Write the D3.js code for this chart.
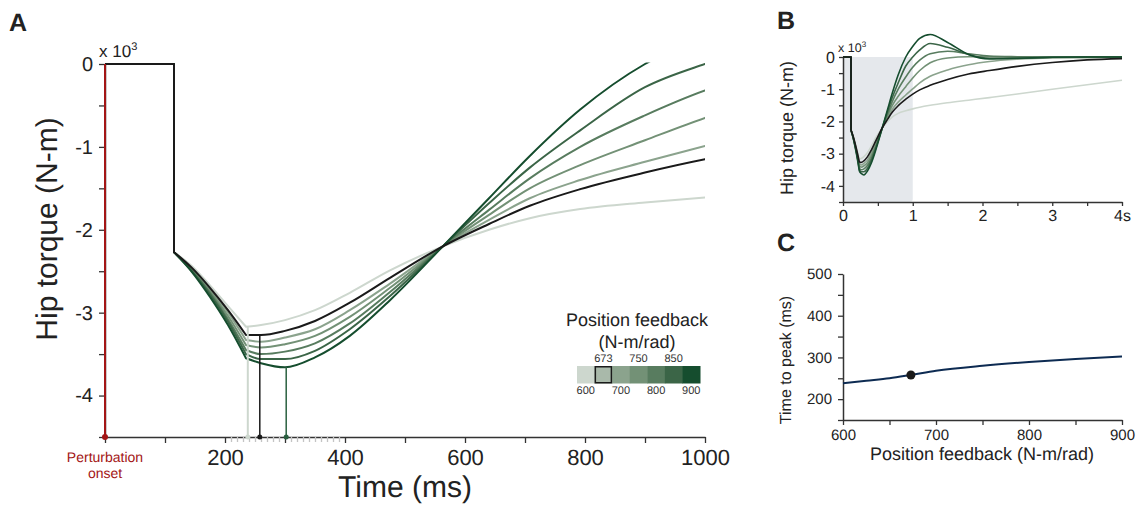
<!DOCTYPE html>
<html><head><meta charset="utf-8">
<script src="https://cdn.jsdelivr.net/npm/d3@7"></script>
<style>
body{margin:0;background:#fff;}
svg{font-family:"Liberation Sans",Arial,Helvetica,sans-serif;text-rendering:geometricPrecision;-webkit-font-smoothing:antialiased;}
</style></head><body>
<svg id="fig" width="1142" height="507"></svg>
<script>
// sample times (ms) of the simulated hip torque traces
var times = [115,145,175,205,235,260,300,350,408,475,563,640,708,792,900,1000,1100,1250,1500,1800,2100,2500,3000,3500,4000];
// flat part before the step (ms, x10^3 N-m)
var stepTimes = [0, 115];
var stepValues = [0, 0];
var knotTime = 235; // slope break after the initial ramp

// hip torque (x10^3 N-m), one array per position feedback gain
var kp600 = [-2.27,-2.44,-2.67,-2.92,-3.17,-3.15,-3.09,-2.97,-2.76,-2.49,-2.20,-2.00,-1.86,-1.75,-1.67,-1.61,-1.56,-1.50,-1.42,-1.34,-1.26,-1.15,-1.00,-0.86,-0.72];
var kp673 = [-2.27,-2.46,-2.70,-2.97,-3.27,-3.27,-3.22,-3.10,-2.88,-2.58,-2.20,-1.93,-1.71,-1.51,-1.31,-1.15,-1.02,-0.88,-0.70,-0.53,-0.42,-0.29,-0.17,-0.09,-0.05];
var kp700 = [-2.27,-2.47,-2.72,-3.00,-3.33,-3.35,-3.30,-3.20,-2.97,-2.65,-2.20,-1.88,-1.62,-1.40,-1.18,-0.99,-0.80,-0.60,-0.40,-0.24,-0.14,-0.07,-0.03,-0.02,-0.01];
var kp750 = [-2.27,-2.48,-2.74,-3.04,-3.39,-3.42,-3.38,-3.28,-3.05,-2.70,-2.20,-1.82,-1.50,-1.22,-0.92,-0.65,-0.42,-0.18,-0.03,0.01,0.01,0.0,0.0,0.0,0.0];
var kp800 = [-2.27,-2.49,-2.76,-3.08,-3.45,-3.50,-3.47,-3.37,-3.13,-2.75,-2.20,-1.76,-1.38,-1.00,-0.62,-0.32,-0.10,0.10,0.18,0.10,0.03,0.01,0.0,0.0,0.0];
var kp850 = [-2.27,-2.50,-2.78,-3.11,-3.50,-3.56,-3.56,-3.46,-3.20,-2.80,-2.20,-1.68,-1.25,-0.80,-0.28,0.00,0.22,0.42,0.30,0.08,-0.04,-0.04,-0.01,0.0,0.0];
var kp900 = [-2.27,-2.51,-2.81,-3.15,-3.55,-3.61,-3.66,-3.54,-3.28,-2.85,-2.20,-1.62,-1.11,-0.55,0.00,0.33,0.58,0.70,0.45,0.08,-0.06,-0.04,-0.01,0.0,0.0];

var gains = [600, 673, 700, 750, 800, 850, 900];
var traces = [kp600, kp673, kp700, kp750, kp800, kp850, kp900];

// panel C: time to peak torque vs gain
var cGain = [600, 625, 650, 673, 700, 750, 800, 850, 900];
var cPeak = [238, 244, 250, 258, 268, 280, 289, 296, 302];
var chosenGain = 673;
var dropGains = [600, 673, 900];

var legendColors = ['#cdd7ce','#a9b9aa','#8ba38d','#739176','#587c5f','#3b6547','#154d2e'];
var lineColors = legendColors.map(function(c, i){ return gains[i] === chosenGain ? '#1a1a1a' : c; });
var ink = '#222', axisInk = '#333', red = '#a31515';

var svg = d3.select('#fig');

function styleAxis(g, size) {
  g.attr('font-family', null);
  g.selectAll('text').attr('font-size', size).attr('fill', ink);
  g.selectAll('line').attr('stroke', axisInk).attr('stroke-width', 1.3);
  g.select('.domain').attr('stroke', axisInk).attr('stroke-width', 1.5);
}

function tracePath(vals, x, y) {
  var pts = times.map(function(t, i){ return [t, vals[i]]; });
  var step = stepTimes.map(function(t, i){ return [t, stepValues[i]]; }).concat([pts[0]]);
  var lin = d3.line().x(function(d){ return x(d[0]); }).y(function(d){ return y(d[1]); });
  var smooth = d3.line().x(function(d){ return x(d[0]); }).y(function(d){ return y(d[1]); }).curve(d3.curveMonotoneX);
  return lin(step) + smooth(pts.filter(function(p){ return p[0] <= knotTime; })) +
    smooth(pts.filter(function(p){ return p[0] >= knotTime; }));
}

function valueAt(vals, t) {
  var i = d3.bisectLeft(times, t);
  var f = (t - times[i-1]) / (times[i] - times[i-1]);
  return vals[i-1] + f * (vals[i] - vals[i-1]);
}

var drawOrder = [0, 2, 3, 4, 5, 6, 1];

// ---------- panel A ----------
var xA = d3.scaleLinear([0, 1000], [105, 705]);
var yA = d3.scaleLinear([-4.5, 0], [437, 64]);

svg.append('text').attr('x', 9).attr('y', 31).attr('font-size', 25).attr('font-weight', 'bold').attr('fill', ink).text('A');

svg.append('defs').append('clipPath').attr('id', 'clipA').append('rect')
  .attr('x', xA(0)).attr('y', yA(0) - 1.5).attr('width', xA(1000) - xA(0)).attr('height', yA(-4.5) - yA(0) + 1.5);

var gxA = svg.append('g').attr('transform', 'translate(0,' + yA(-4.5) + ')')
  .call(d3.axisBottom(xA).tickValues(d3.range(0, 1001, 100)).tickSize(6).tickSizeOuter(0).tickPadding(6)
    .tickFormat(function(d){ return d > 0 && d % 200 === 0 ? d : ''; }));
styleAxis(gxA, 22);

var gMinor = svg.append('g').attr('transform', 'translate(0,' + yA(-4.5) + ')')
  .call(d3.axisBottom(xA).tickValues(d3.range(210, 400, 10).filter(function(d){ return d % 100 !== 0; }))
    .tickSize(5).tickFormat(''));
gMinor.select('.domain').remove();
gMinor.selectAll('line').attr('stroke', '#c4c4c4').attr('stroke-width', 1.3);

var gyA = svg.append('g').attr('transform', 'translate(' + xA(0) + ',0)')
  .call(d3.axisLeft(yA).tickValues(d3.range(0, -4.51, -0.5)).tickSize(6).tickSizeOuter(0).tickPadding(6)
    .tickFormat(function(d){ return Number.isInteger(d) ? d : ''; }));
styleAxis(gyA, 20);

svg.append('text').attr('x', 99).attr('y', 57).attr('font-size', 17).attr('fill', ink)
  .text('x 10').append('tspan').attr('font-size', 11).attr('dy', -7).text('3');

svg.append('text').attr('transform', 'translate(57,' + 229 + ') rotate(-90)').attr('text-anchor', 'middle')
  .attr('font-size', 30).attr('fill', ink).text('Hip torque (N-m)');
svg.append('text').attr('x', 405).attr('y', 497).attr('text-anchor', 'middle')
  .attr('font-size', 30).attr('fill', ink).text('Time (ms)');

var gA = svg.append('g').attr('clip-path', 'url(#clipA)');
drawOrder.forEach(function(i){
  gA.append('path').attr('d', tracePath(traces[i], xA, yA)).attr('fill', 'none')
    .attr('stroke', lineColors[i]).attr('stroke-width', 2).attr('stroke-linejoin', 'round').attr('stroke-linecap', 'round');
});

// drop lines from the peak to the time axis
dropGains.forEach(function(gn){
  var i = gains.indexOf(gn);
  var tp = cPeak[cGain.indexOf(gn)];
  var vp = valueAt(traces[i], tp);
  var col = gn === 900 ? '#2a6040' : lineColors[i];
  svg.append('line').attr('x1', xA(tp)).attr('x2', xA(tp)).attr('y1', yA(vp)).attr('y2', yA(-4.5))
    .attr('stroke', col).attr('stroke-width', gn === 600 ? 2 : 1.5);
  svg.append('circle').attr('cx', xA(tp)).attr('cy', yA(-4.5)).attr('r', 2.5).attr('fill', col);
});

// perturbation onset
svg.append('line').attr('x1', xA(0)).attr('x2', xA(0)).attr('y1', yA(0)).attr('y2', yA(-4.5))
  .attr('stroke', red).attr('stroke-width', 2);
svg.append('circle').attr('cx', xA(0)).attr('cy', yA(-4.5)).attr('r', 3).attr('fill', red);
svg.append('text').attr('x', xA(0)).attr('y', 462).attr('text-anchor', 'middle').attr('font-size', 14).attr('fill', red).text('Perturbation');
svg.append('text').attr('x', xA(0)).attr('y', 478).attr('text-anchor', 'middle').attr('font-size', 14).attr('fill', red).text('onset');

// legend (colour bar)
var xLeg = d3.scaleBand(gains, [577, 700]);
var gLeg = svg.append('g');
gLeg.append('text').attr('x', 637).attr('y', 326).attr('text-anchor', 'middle').attr('font-size', 18).attr('fill', ink).text('Position feedback');
gLeg.append('text').attr('x', 637).attr('y', 348).attr('text-anchor', 'middle').attr('font-size', 18).attr('fill', ink).text('(N-m/rad)');
gains.forEach(function(gn, i){
  gLeg.append('rect').attr('x', xLeg(gn)).attr('y', 366).attr('width', xLeg.bandwidth() + 0.5).attr('height', 17.5)
    .attr('fill', legendColors[i]);
  gLeg.append('text').attr('x', xLeg(gn) + xLeg.bandwidth() / 2).attr('y', i % 2 ? 362 : 394)
    .attr('text-anchor', 'middle').attr('font-size', 11).attr('fill', '#333').text(gn);
});
gLeg.append('rect').attr('x', xLeg(chosenGain) + 0.75).attr('y', 366.75).attr('width', xLeg.bandwidth() - 1.5).attr('height', 16)
  .attr('fill', 'none').attr('stroke', '#1a1a1a').attr('stroke-width', 1.5);

// ---------- panel B ----------
var xB = d3.scaleLinear([0, 4000], [843, 1122]);
var yB = d3.scaleLinear([-4.5, 0], [202, 57]);

svg.append('text').attr('x', 777).attr('y', 29).attr('font-size', 25).attr('font-weight', 'bold').attr('fill', ink).text('B');

svg.append('rect').attr('x', xB(0)).attr('y', yB(0)).attr('width', xB(1000) - xB(0)).attr('height', yB(-4.5) - yB(0))
  .attr('rx', 3).attr('fill', '#e5e8ec');

var gxB = svg.append('g').attr('transform', 'translate(0,' + yB(-4.5) + ')')
  .call(d3.axisBottom(xB).tickValues(d3.range(0, 4001, 500)).tickSize(4).tickSizeOuter(0).tickPadding(4)
    .tickFormat(function(d){ return d % 1000 ? '' : (d === 4000 ? '4s' : d / 1000); }));
styleAxis(gxB, 16);

var gyB = svg.append('g').attr('transform', 'translate(' + xB(0) + ',0)')
  .call(d3.axisLeft(yB).tickValues(d3.range(0, -4.51, -0.5)).tickSize(4).tickSizeOuter(0).tickPadding(4)
    .tickFormat(function(d){ return Number.isInteger(d) ? d : ''; }));
styleAxis(gyB, 16);

svg.append('text').attr('x', 838).attr('y', 52).attr('font-size', 12.5).attr('fill', ink)
  .text('x 10').append('tspan').attr('font-size', 8).attr('dy', -5).text('3');
svg.append('text').attr('transform', 'translate(793,128) rotate(-90)').attr('text-anchor', 'middle')
  .attr('font-size', 18).attr('fill', ink).text('Hip torque (N-m)');

drawOrder.forEach(function(i){
  svg.append('path').attr('d', tracePath(traces[i], xB, yB)).attr('fill', 'none')
    .attr('stroke', lineColors[i]).attr('stroke-width', 1.6).attr('stroke-linejoin', 'round');
});

// ---------- panel C ----------
var xC = d3.scaleLinear([600, 900], [843, 1122]);
var yC = d3.scaleLinear([150, 500], [420, 274]);

svg.append('text').attr('x', 777).attr('y', 251).attr('font-size', 25).attr('font-weight', 'bold').attr('fill', ink).text('C');

var gxC = svg.append('g').attr('transform', 'translate(0,' + yC(150) + ')')
  .call(d3.axisBottom(xC).tickValues(d3.range(600, 901, 50)).tickSize(5).tickSizeOuter(0).tickPadding(4)
    .tickFormat(function(d){ return d % 100 ? '' : d; }));
styleAxis(gxC, 15);

var gyC = svg.append('g').attr('transform', 'translate(' + xC(600) + ',0)')
  .call(d3.axisLeft(yC).tickValues(d3.range(150, 501, 50)).tickSize(5).tickSizeOuter(0).tickPadding(6)
    .tickFormat(function(d){ return d % 100 ? '' : d; }));
styleAxis(gyC, 15);

svg.append('text').attr('transform', 'translate(791,360) rotate(-90)').attr('text-anchor', 'middle')
  .attr('font-size', 16).attr('fill', ink).text('Time to peak (ms)');
svg.append('text').attr('x', 982).attr('y', 460).attr('text-anchor', 'middle')
  .attr('font-size', 18).attr('fill', ink).text('Position feedback (N-m/rad)');

svg.append('path').datum(cGain.map(function(g, i){ return [g, cPeak[i]]; }))
  .attr('d', d3.line().x(function(d){ return xC(d[0]); }).y(function(d){ return yC(d[1]); }).curve(d3.curveMonotoneX))
  .attr('fill', 'none').attr('stroke', '#0d2b52').attr('stroke-width', 2);
svg.append('circle').attr('cx', xC(chosenGain)).attr('cy', yC(cPeak[cGain.indexOf(chosenGain)])).attr('r', 4.5).attr('fill', '#1a1a1a');
</script>
</body></html>
